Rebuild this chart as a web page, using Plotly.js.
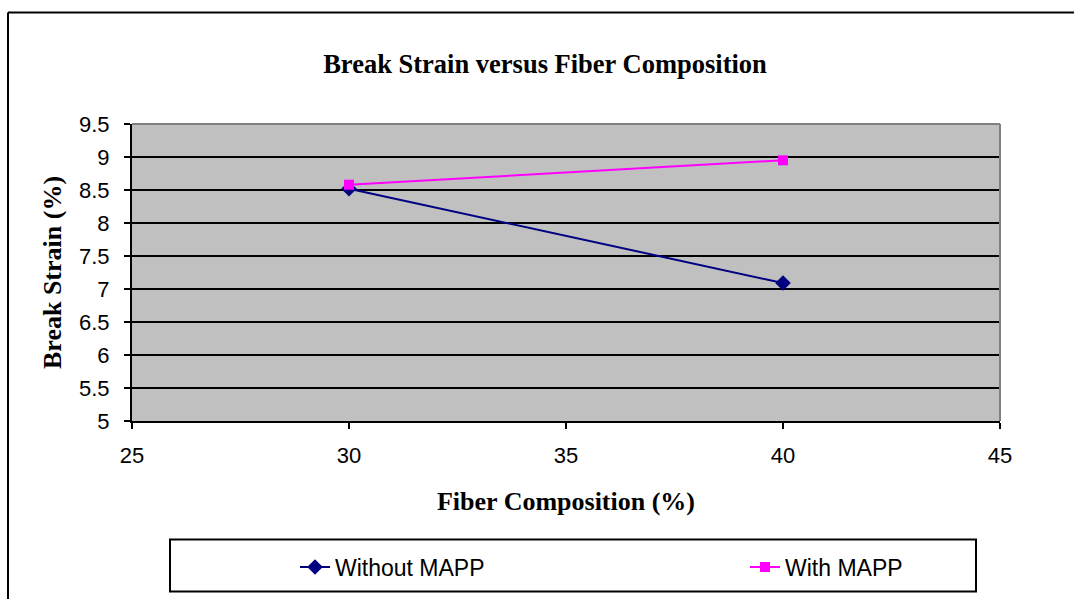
<!DOCTYPE html>
<html>
<head>
<meta charset="utf-8">
<script src="https://cdn.plot.ly/plotly-3.0.1.min.js"></script>
<style>html,body{margin:0;padding:0;background:#fff;}#chart{width:1074px;height:599px;}</style>
</head>
<body>
<div id="chart"></div>
<script>
// Data
var fiberComposition = [30, 40];
var withoutMAPP = [8.52, 7.09];
var withMAPP = [8.58, 8.95];
var seriesNames = ["Without MAPP", "With MAPP"];
var chartTitle = "Break Strain versus Fiber Composition";
var xTitle = "Fiber Composition (%)";
var yTitle = "Break Strain (%)";

// Layout geometry (pixels)
var W = 1074, H = 599;
var L = 132, R = 1000, T = 124, B = 422;
var pw = R - L, ph = B - T;
function px(x){ return (x - L) / pw; }
function py(y){ return (B - y) / ph; }

var serif = "Liberation Serif, Times New Roman, serif";
var sans = "Liberation Sans, Arial, sans-serif";

var traces = [
  {x: fiberComposition, y: withoutMAPP, name: seriesNames[0], type: "scatter", mode: "lines+markers",
   line: {color: "#000080", width: 2}, marker: {symbol: "diamond", size: 12, color: "#000080"}, legend: "legend"},
  {x: fiberComposition, y: withMAPP, name: seriesNames[1], type: "scatter", mode: "lines+markers",
   line: {color: "#FF00FF", width: 2}, marker: {symbol: "square", size: 10, color: "#FF00FF"}, legend: "legend2"}
];

var legendCommon = {orientation: "h", bgcolor: "rgba(0,0,0,0)", borderwidth: 0,
  font: {family: sans, size: 23, color: "#000"}, yanchor: "middle", xanchor: "left", itemclick: false};

var layout = {
  width: W, height: H,
  margin: {l: L, r: W - R, t: T, b: H - B, pad: 0},
  paper_bgcolor: "#ffffff",
  plot_bgcolor: "#C0C0C0",
  title: {text: "<b>" + chartTitle + "</b>", font: {family: serif, size: 26.5, color: "#000"},
          xref: "container", x: 545 / W, xanchor: "center", yref: "container", y: 1 - 64 / H, yanchor: "middle"},
  xaxis: {
    range: [25, 45], tickmode: "array", tickvals: [25, 30, 35, 40, 45], ticktext: ["25", "30", "35", "40", "45"],
    showgrid: false, zeroline: false, showline: true, linecolor: "#000", linewidth: 2,
    ticks: "outside", ticklen: 6, tickcolor: "#000", tickwidth: 1.5, ticklabelstandoff: 8,
    tickfont: {family: sans, size: 22, color: "#000"},
    title: {text: "<b>" + xTitle + "</b>", font: {family: serif, size: 26, color: "#000"}, standoff: 24}
  },
  yaxis: {
    range: [5, 9.5], tickmode: "array", tickvals: [5, 5.5, 6, 6.5, 7, 7.5, 8, 8.5, 9, 9.5],
    ticktext: ["5", "5.5", "6", "6.5", "7", "7.5", "8", "8.5", "9", "9.5"],
    showgrid: true, gridcolor: "#000", gridwidth: 1.5, zeroline: false,
    showline: true, linecolor: "#000", linewidth: 2,
    ticks: "outside", ticklen: 6, tickcolor: "#000", tickwidth: 1.5, ticklabelstandoff: 10,
    tickfont: {family: sans, size: 22, color: "#000"},
    title: {text: "<b>" + yTitle + "</b>", font: {family: serif, size: 26, color: "#000"}, standoff: 10}
  },
  showlegend: true,
  legend: Object.assign({}, legendCommon, {x: px(295), y: py(567)}),
  legend2: Object.assign({}, legendCommon, {x: px(745), y: py(567)}),
  shapes: [
    // plot area top & right gray border
    {type: "line", xref: "paper", yref: "paper", x0: 0, x1: 1, y0: 1, y1: 1, line: {color: "#808080", width: 2}},
    {type: "line", xref: "paper", yref: "paper", x0: 1, x1: 1, y0: 0, y1: 1, line: {color: "#808080", width: 2}},
    // outer chart border (left and top)
    {type: "line", xref: "paper", yref: "paper", x0: px(8), x1: px(1080), y0: py(12), y1: py(12), line: {color: "#000", width: 2}},
    {type: "line", xref: "paper", yref: "paper", x0: px(8), x1: px(8), y0: py(12), y1: py(610), line: {color: "#000", width: 2}},
    // legend box
    {type: "rect", xref: "paper", yref: "paper", x0: px(170), x1: px(976), y0: py(541), y1: py(593), line: {color: "#000", width: 2}, fillcolor: "rgba(0,0,0,0)"}
  ]
};

Plotly.newPlot("chart", traces, layout, {displayModeBar: false, staticPlot: true});
</script>
</body>
</html>
